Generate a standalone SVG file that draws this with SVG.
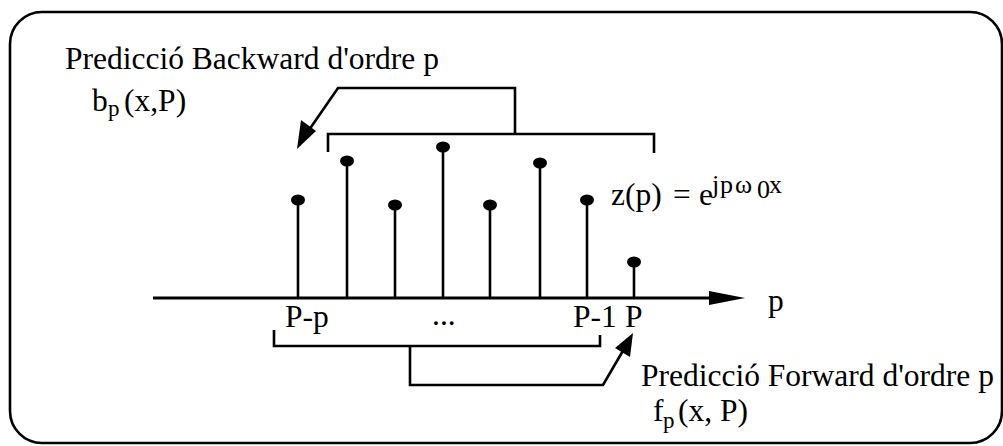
<svg xmlns="http://www.w3.org/2000/svg" width="1003" height="446" viewBox="0 0 1003 446">
<style>
.t{font-family:"Liberation Serif","Times New Roman",serif;font-size:31.5px;fill:#000}
.s{font-family:"Liberation Serif","Times New Roman",serif;font-size:23px;fill:#000}
.sp{font-family:"Liberation Serif","Times New Roman",serif;font-size:26px;fill:#000}
.ln{fill:none;stroke:#000;stroke-width:2.6;stroke-linejoin:miter}
.st{stroke:#000;stroke-width:2.6}
</style>
<rect x="10" y="12" width="992" height="431" rx="32" ry="32" fill="#fff" stroke="#000" stroke-width="2.6"/>
<g id="axis">
<line x1="153" y1="298" x2="712" y2="298" stroke="#000" stroke-width="3"/>
<polygon points="709,291 745,298 709,305" fill="#000"/>
<text class="t" x="768" y="311">p</text>
</g>
<g id="stems">
<line class="st" x1="298" y1="298" x2="298" y2="200"/><ellipse cx="298" cy="200" rx="7" ry="5.5"/>
<line class="st" x1="347" y1="298" x2="347" y2="161"/><ellipse cx="347" cy="161" rx="7" ry="5.5"/>
<line class="st" x1="395" y1="298" x2="395" y2="205"/><ellipse cx="395" cy="205" rx="7" ry="5.5"/>
<line class="st" x1="443" y1="298" x2="443" y2="147"/><ellipse cx="443" cy="147" rx="7" ry="5.5"/>
<line class="st" x1="490" y1="298" x2="490" y2="205"/><ellipse cx="490" cy="205" rx="7" ry="5.5"/>
<line class="st" x1="540" y1="298" x2="540" y2="163"/><ellipse cx="540" cy="163" rx="7" ry="5.5"/>
<line class="st" x1="587" y1="298" x2="587" y2="200"/><ellipse cx="587" cy="200" rx="7" ry="5.5"/>
<line class="st" x1="634" y1="298" x2="634" y2="262"/><ellipse cx="634" cy="262" rx="7" ry="5.5"/>
</g>
<g id="labels">
<text class="t" x="285" y="327">P-p</text>
<text class="t" x="432" y="325">...</text>
<text class="t" x="573" y="327">P-1</text>
<text class="t" x="625" y="327">P</text>
</g>
<g id="zp">
<text class="t" x="611" y="205">z(p)</text>
<text class="t" x="673" y="205">=</text>
<text class="t" x="699" y="205">e</text>
<text class="sp" x="712" y="193">j</text>
<text class="sp" x="720" y="193">p</text>
<text class="sp" x="735" y="193" font-size="31">ω</text>
<text class="sp" x="757" y="198" font-size="19">0</text>
<text class="sp" x="769" y="193">x</text>
</g>
<g id="backward">
<text class="t" x="65" y="69" font-size="32">Predicció Backward d'ordre p</text>
<text class="t" x="92" y="111">b</text>
<text class="s" x="108" y="116">p</text>
<text class="t" x="124" y="111">(x,P)</text>
</g>
<g id="forward">
<text class="t" x="641" y="386">Predicció Forward d'ordre p</text>
<text class="t" x="653" y="421">f</text>
<text class="s" x="663" y="428">p</text>
<text class="t" x="678" y="421">(x, P)</text>
</g>
<g id="connectors">
<polyline class="ln" points="328,152 328,134 654,134 654,153"/>
<polyline class="ln" points="515,134 515,88 338,88 309,130"/>
<polygon points="297,149 301,120 316,131" fill="#000"/>
<polyline class="ln" points="274,330 274,346 600,346 600,335"/>
<polyline class="ln" points="410,346 410,385 603,385 624,349"/>
<polygon points="633,333 630,357 615,348" fill="#000"/>
</g>
</svg>
